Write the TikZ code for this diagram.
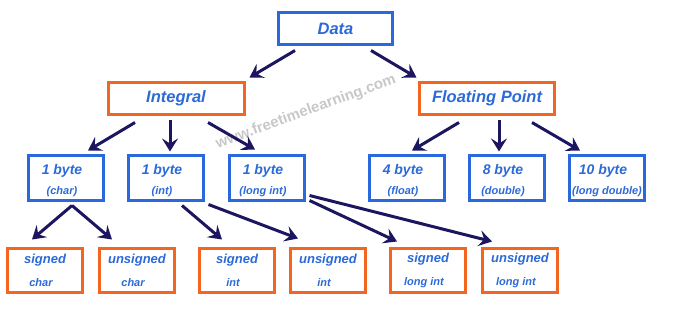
\documentclass[tikz,border=0pt]{standalone}
\usepackage{fontspec}
\setmainfont{Liberation Sans}
\usepackage{xcolor}
\usepackage{tikz}
\usetikzlibrary{arrows.meta}
\definecolor{boxblue}{RGB}{42,104,222}
\definecolor{txtblue}{RGB}{44,106,216}
\definecolor{boxorange}{RGB}{242,102,34}
\definecolor{arrnavy}{RGB}{28,22,96}
\definecolor{wmgray}{RGB}{200,200,200}
\newcommand{\fsHead}{\fontsize{16.5}{18}\selectfont}
\newcommand{\fsTop}{\fontsize{14}{16}\selectfont}
\newcommand{\fsLow}{\fontsize{13}{15}\selectfont}
% two-line box texts (set a bit left of centre, as in the original)
\newcommand{\sizetxt}[2]{\rule{0pt}{16pt}{\fsTop #1\hspace*{8pt}}\\#2\hspace*{8pt}}
\newcommand{\kindtxt}[2]{{\fsLow #1}\\#2\hspace*{8pt}}

\begin{document}
\begin{tikzpicture}[x=1pt,y=-1pt,
    every node/.style={font=\bfseries\itshape,text=txtblue,inner sep=0pt},
    headbox/.style={line width=3pt,minimum height=32pt,font=\bfseries\itshape\fsHead},
    sizebox/.style={draw=boxblue,line width=3pt,minimum width=75pt,minimum height=45pt,
      align=center,font=\bfseries\itshape\fontsize{11}{20}\selectfont},
    kindbox/.style={draw=boxorange,line width=3pt,minimum width=75pt,minimum height=44pt,
      align=center,font=\bfseries\itshape\fontsize{11}{22.5}\selectfont},
    arr/.style={arrnavy,line width=3pt,-{Stealth[length=13pt,width=16pt,inset=5pt]}}]

    \useasboundingbox (0,0) rectangle (700,320);

    % Watermark
    \node[text=wmgray,font=\bfseries\fontsize{15}{15}\selectfont,rotate=20] (wm) at (306,112)
      {www.freetimelearning.com};

    % Top levels
    \node[headbox,draw=boxblue,minimum width=114pt] (data) at (335.5,28.5) {Data};
    \node[headbox,draw=boxorange,minimum width=136pt] (integral) at (176,98.5) {Integral};
    \node[headbox,draw=boxorange,minimum width=135pt] (floating) at (487,98.5) {Floating Point};

    % Sizes
    \node[sizebox] (char) at (66,178) {\sizetxt{1 byte}{(char)}};
    \node[sizebox] (int) at (166,178) {\sizetxt{1 byte}{(int)}};
    \node[sizebox] (longint) at (267,178) {\sizetxt{1 byte}{(long int)}};
    \node[sizebox] (float) at (407,178) {\sizetxt{4 byte}{(float)}};
    \node[sizebox] (double) at (507,178) {\sizetxt{8 byte}{(double)}};
    \node[sizebox] (longdouble) at (607,178) {\rule{0pt}{16pt}{\fsTop 10 byte\hspace*{8pt}}\\(long double)};

    % Signed / unsigned
    \node[kindbox] (schar) at (45,270.5) {\kindtxt{signed}{char}};
    \node[kindbox] (uchar) at (137,270.5) {\kindtxt{unsigned}{char}};
    \node[kindbox] (sint) at (237,270.5) {\kindtxt{signed}{int}};
    \node[kindbox] (uint) at (328,270.5) {\kindtxt{unsigned}{int}};
    \node[kindbox] (slong) at (428,270.5) {\kindtxt{signed}{long int}};
    \node[kindbox] (ulong) at (520,270.5) {\kindtxt{unsigned}{long int}};

    % Arrows
    \draw[arr] ([shift={(-40.5,4.5)}]data.south) -- ([shift={(4,-3.5)}]integral.north east);
    \draw[arr] ([shift={(35.5,4.5)}]data.south) -- ([shift={(-1.5,-3.5)}]floating.north west);

    \draw[arr] ([shift={(-41,6.5)}]integral.south) -- ([shift={(22,-3.5)}]char.north);
    \draw[arr] ([shift={(-6,4.5)}]integral.south) -- ([shift={(4,-2.5)}]int.north);
    \draw[arr] ([shift={(32,6.5)}]integral.south) -- ([shift={(-12,-4.5)}]longint.north);

    \draw[arr] ([shift={(-28,6.5)}]floating.south) -- ([shift={(5,-3.5)}]float.north);
    \draw[arr] ([shift={(12,4.5)}]floating.south) -- ([shift={(-8,-2.5)}]double.north);
    \draw[arr] ([shift={(45,6.5)}]floating.south) -- ([shift={(-27,-3.5)}]longdouble.north);

    \draw[arr] ([shift={(6,3.5)}]char.south) -- ([shift={(-13,-7.5)}]schar.north);
    \draw[arr] ([shift={(6,3.5)}]char.south) -- ([shift={(-25,-7.5)}]uchar.north);
    \draw[arr] ([shift={(16,3.5)}]int.south) -- ([shift={(-15,-7.5)}]sint.north);
    \draw[arr] ([shift={(3.5,2.5)}]int.south east) -- ([shift={(-30,-8.5)}]uint.north);
    \draw[arr] ([shift={(3.5,-1.5)}]longint.south east) -- ([shift={(-31,-5.5)}]slong.north);
    \draw[arr] ([shift={(3.5,-6.5)}]longint.south east) -- ([shift={(-28,-5.5)}]ulong.north);

\end{tikzpicture}
\end{document}
